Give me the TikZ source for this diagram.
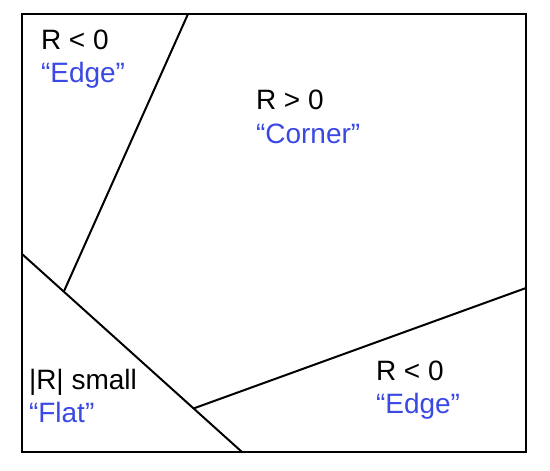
\documentclass[tikz,border=0pt]{standalone}
\usepackage{fontspec}
\setmainfont{Liberation Sans}
\usetikzlibrary{calc}
\definecolor{kindblue}{RGB}{58,72,228}
\begin{document}
\begin{tikzpicture}[x=0.5pt,y=-0.5pt,line width=1pt,
    cond/.style={anchor=base west,inner sep=0pt,font=\fontsize{14}{16}\selectfont},
    kind/.style={cond,text=kindblue}]
        \useasboundingbox (0,0) rectangle (550,470);
        %% Frame
        \draw (22,14) rectangle (526,452);
        %% Region borders
        \coordinate (edgetop) at (188,14);
        \coordinate (flatleft) at (22,254);
        \coordinate (flatbottom) at (242,452);
        \coordinate (edgeright) at (526,288);
        \draw (flatleft) -- (flatbottom);
        \draw (edgetop) -- ($(flatleft)!0.19!(flatbottom)$);
        \draw ($(flatleft)!0.78!(flatbottom)$) -- (edgeright);
        %% Labels
        \node[cond] (condA) at (40,50) {R < 0};
        \node[kind] (kindA) at (40,83) {“Edge”};
        \node[cond] (condB) at (255,110) {R > 0};
        \node[kind] (kindB) at (255,144) {“Corner”};
        \node[cond] (condC) at (28,389) {|R| small};
        \node[kind] (kindC) at (28,422) {“Flat”};
        \node[cond] (condD) at (375,380) {R < 0};
        \node[kind] (kindD) at (375,413) {“Edge”};
    \end{tikzpicture}
\end{document}
